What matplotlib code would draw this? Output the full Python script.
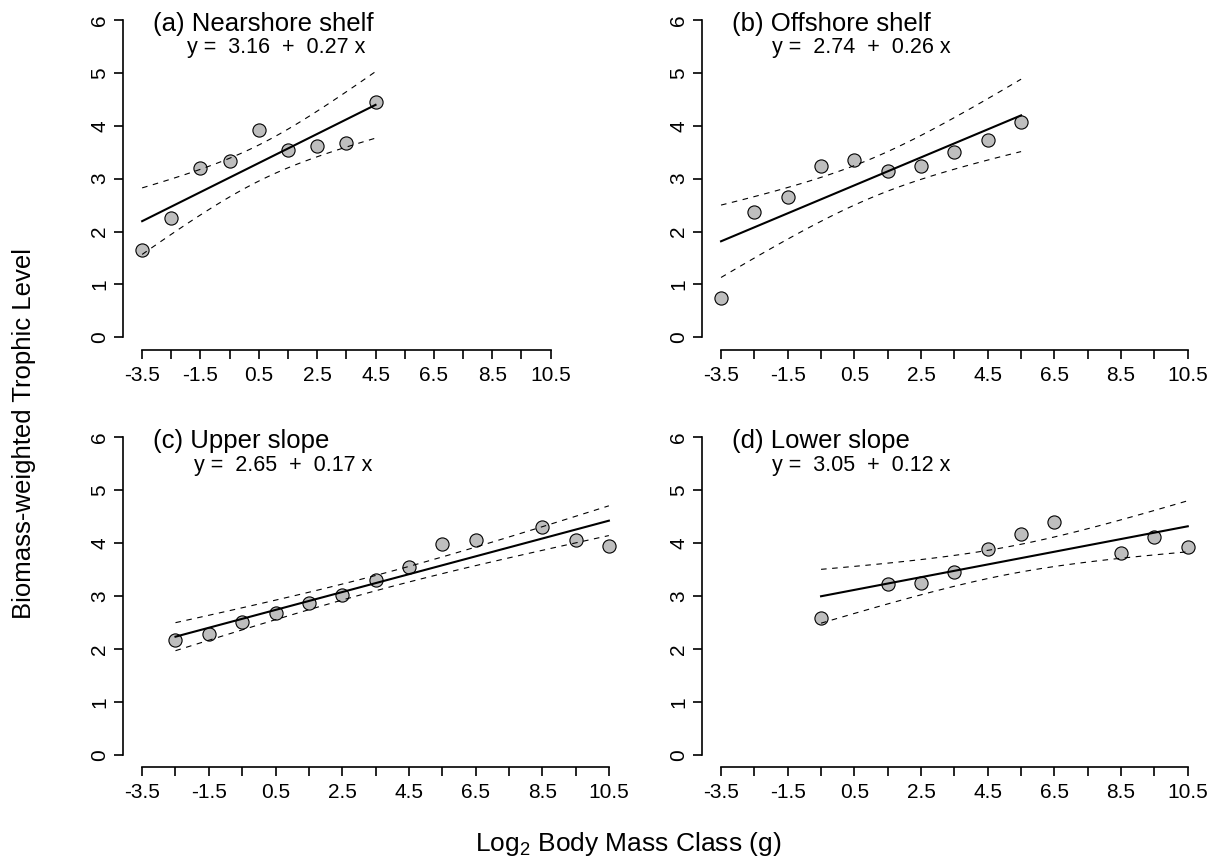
from math import gamma, pi, sqrt

import matplotlib

matplotlib.use("Agg")

import matplotlib.pyplot as plt
import numpy as np

plt.rcParams["font.family"] = ["Liberation Sans", "DejaVu Sans"]
plt.rcParams["mathtext.default"] = "regular"

# Log2 body mass class (x) and biomass-weighted trophic level (y)
SIZE_A = [-3.5, -2.5, -1.5, -0.5, 0.5, 1.5, 2.5, 3.5, 4.5]
TL_A = [1.65, 2.25, 3.21, 3.34, 3.92, 3.55, 3.62, 3.67, 4.45]

SIZE_B = [-3.5, -2.5, -1.5, -0.5, 0.5, 1.5, 2.5, 3.5, 4.5, 5.5]
TL_B = [0.75, 2.36, 2.66, 3.23, 3.36, 3.14, 3.24, 3.50, 3.74, 4.08]

SIZE_C = [-2.5, -1.5, -0.5, 0.5, 1.5, 2.5, 3.5, 4.5, 5.5, 6.5, 8.5, 9.5, 10.5]
TL_C = [2.16, 2.28, 2.50, 2.67, 2.86, 3.02, 3.30, 3.55, 3.98, 4.05, 4.30, 4.05, 3.95]

SIZE_D = [-0.5, 1.5, 2.5, 3.5, 4.5, 5.5, 6.5, 8.5, 9.5, 10.5]
TL_D = [2.59, 3.22, 3.25, 3.45, 3.88, 4.18, 4.40, 3.81, 4.11, 3.92]

TITLES = ["(a) Nearshore shelf", "(b) Offshore shelf", "(c) Upper slope", "(d) Lower slope"]
EQUATIONS = ["y =  3.16  +  0.27 x", "y =  2.74  +  0.26 x", "y =  2.65  +  0.17 x", "y =  3.05  +  0.12 x"]
X_LIMITS = [(-3.5, 12.5), (-3.5, 10.5), (-3.5, 10.5), (-3.5, 10.5)]

X_TICKS = np.arange(-3.5, 10.6, 1.0)
X_TICK_LABELS = [f"{t:g}" if i % 2 == 0 else "" for i, t in enumerate(X_TICKS)]
Y_TICKS = [0, 1, 2, 3, 4, 5, 6]


def t_crit(df, level=0.975):
    t = np.linspace(0, 40, 400001)
    pdf = gamma((df + 1) / 2) / (sqrt(df * pi) * gamma(df / 2)) * (1 + t ** 2 / df) ** (-(df + 1) / 2)
    cdf = 0.5 + np.concatenate([[0.0], np.cumsum((pdf[1:] + pdf[:-1]) / 2 * np.diff(t))])
    return float(np.interp(level, cdf, t))


def fit_band(x, y):
    x = np.asarray(x, dtype=float)
    y = np.asarray(y, dtype=float)
    slope, intercept = np.polyfit(x, y, 1)
    n = len(x)
    resid = y - (intercept + slope * x)
    s = np.sqrt(np.sum(resid ** 2) / (n - 2))
    grid = np.linspace(x.min(), x.max(), 120)
    fit = intercept + slope * grid
    se = s * np.sqrt(1 / n + (grid - x.mean()) ** 2 / np.sum((x - x.mean()) ** 2))
    half = t_crit(n - 2) * se
    return grid, fit, fit - half, fit + half


panels = [(SIZE_A, TL_A), (SIZE_B, TL_B), (SIZE_C, TL_C), (SIZE_D, TL_D)]
lefts = [0.1013, 0.5762, 0.1013, 0.5762]
bottoms = [0.5963, 0.5963, 0.1149, 0.1149]
eq_x = [0.127, 0.139, 0.139, 0.139]

fig = plt.figure(figsize=(12.19, 8.67), dpi=100)

for i, (x, y) in enumerate(panels):
    ax = fig.add_axes([lefts[i], bottoms[i], 0.4135, 0.3953])
    lo_x, hi_x = X_LIMITS[i]
    pad = 0.04 * (hi_x - lo_x)
    ax.set_xlim(lo_x - pad, hi_x + pad)
    ax.set_ylim(-0.24, 6.24)

    grid, fit, lower, upper = fit_band(x, y)
    ax.scatter(x, y, s=90, facecolor="#BEBEBE", edgecolor="black", linewidth=0.8, zorder=2)
    ax.plot(grid, fit, color="black", linewidth=1.5, zorder=3)
    ax.plot(grid, lower, color="black", linewidth=0.8, linestyle=(0, (5, 5)), zorder=3)
    ax.plot(grid, upper, color="black", linewidth=0.8, linestyle=(0, (5, 5)), zorder=3)

    for side in ["top", "right"]:
        ax.spines[side].set_visible(False)
    ax.spines["left"].set_bounds(0, 6)
    ax.spines["bottom"].set_bounds(-3.5, 10.5)
    ax.spines["left"].set_linewidth(1.2)
    ax.spines["bottom"].set_linewidth(1.2)

    ax.set_xticks(X_TICKS)
    ax.set_xticklabels(X_TICK_LABELS)
    ax.set_yticks(Y_TICKS)
    ax.set_yticklabels([str(v) for v in Y_TICKS], rotation=90, va="center")
    ax.tick_params(direction="out", length=6.3, width=1.2, labelsize=15)
    ax.tick_params(axis="x", pad=5)
    ax.tick_params(axis="y", pad=4)

    ax.text(0.058, 0.932, TITLES[i], transform=ax.transAxes, fontsize=18.5, va="baseline")
    ax.text(eq_x[i], 0.866, EQUATIONS[i], transform=ax.transAxes, fontsize=15.5, va="baseline")

fig.text(0.0195, 0.5, "Biomass-weighted Trophic Level", rotation=90, ha="center", va="center", fontsize=18.5)
fig.text(0.515, 0.027, "Log$_2$ Body Mass Class (g)", ha="center", va="center", fontsize=19)

fig.savefig("out.png", dpi=100)
plt.close(fig)
